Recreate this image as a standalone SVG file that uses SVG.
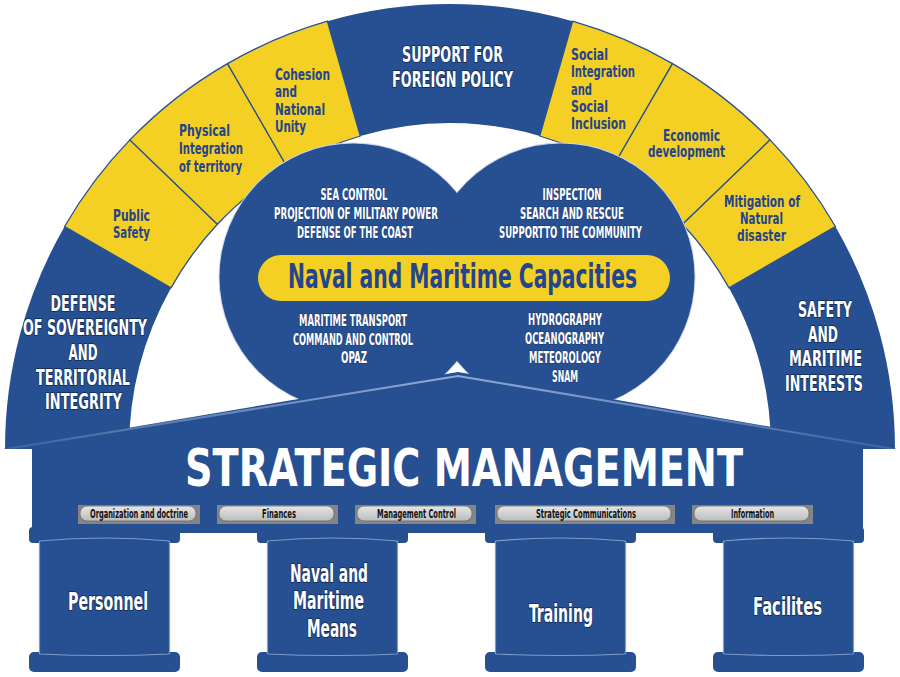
<svg xmlns="http://www.w3.org/2000/svg" width="900" height="677" viewBox="0 0 900 677">
<defs>
<linearGradient id="btn" x1="0" y1="0" x2="0" y2="1">
<stop offset="0" stop-color="#e6e6e6"/>
<stop offset="1" stop-color="#bcbcbc"/>
</linearGradient>
<linearGradient id="ridge" x1="0" y1="0" x2="1" y2="0">
<stop offset="0" stop-color="#9db4dc" stop-opacity="0.2"/>
<stop offset="0.5" stop-color="#9db4dc" stop-opacity="0.9"/>
<stop offset="1" stop-color="#9db4dc" stop-opacity="0.2"/>
</linearGradient>
<style>
.blue{fill:#275092}
.yel{fill:#f4d024;stroke:#275092;stroke-width:1.3}
.circo{fill:#275092;stroke:#c9d5ea;stroke-width:2}
.t{font-family:"Liberation Sans Narrow","DejaVu Sans Condensed","Liberation Sans",sans-serif;font-weight:bold;text-anchor:middle}
.w{fill:#ffffff}
.wo{fill:#ffffff;stroke:#16305e;stroke-width:2;paint-order:stroke;stroke-linejoin:round}
.wc{fill:#ffffff;stroke:#1b3668;stroke-width:1;paint-order:stroke}
.y{fill:#24448c;font-size:16px}
.s{text-anchor:start}
.cap{font-size:15.5px}
.arch{font-size:22px}
.col{font-size:25px}
.bt{fill:#111111;font-size:11.5px}
.btnback{fill:#858585}
.btnpill{fill:url(#btn);stroke:#6a6a6a;stroke-width:0.8}
.hl{fill:none;stroke:#7e9bcc;stroke-width:1.2}
</style>
</defs>
<rect width="900" height="677" fill="#ffffff"/>

<g id="arch">
<g id="seg-defense">
<path class="blue" d="M5,449 A445,445 0 0 1 64.6,226.5 L171,287.9 A321,326 0 0 0 129,449 Z"/>
<text class="t wo arch" x="83" y="311" textLength="65" lengthAdjust="spacingAndGlyphs">DEFENSE</text>
<text class="t wo arch" x="85" y="335" textLength="124" lengthAdjust="spacingAndGlyphs">OF SOVEREIGNTY</text>
<text class="t wo arch" x="83" y="360" textLength="29" lengthAdjust="spacingAndGlyphs">AND</text>
<text class="t wo arch" x="83" y="385" textLength="94" lengthAdjust="spacingAndGlyphs">TERRITORIAL</text>
<text class="t wo arch" x="83.5" y="409" textLength="77" lengthAdjust="spacingAndGlyphs">INTEGRITY</text>
</g>
<g id="seg-public-safety">
<path class="yel" d="M64.6,226.5 A445,445 0 0 1 129.9,139.9 L217.4,224.3 A321,326 0 0 0 171,287.9 Z"/>
<text class="t y s" x="113" y="221" textLength="37" lengthAdjust="spacingAndGlyphs">Public</text>
<text class="t y s" x="113" y="238" textLength="37" lengthAdjust="spacingAndGlyphs">Safety</text>
</g>
<g id="seg-physical">
<path class="yel" d="M129.9,139.9 A445,445 0 0 1 227.5,63.6 L287.6,167.8 A321,326 0 0 0 217.4,224.3 Z"/>
<text class="t y s" x="179" y="136" textLength="51" lengthAdjust="spacingAndGlyphs">Physical</text>
<text class="t y s" x="179" y="154" textLength="64" lengthAdjust="spacingAndGlyphs">Integration</text>
<text class="t y s" x="179" y="172" textLength="63" lengthAdjust="spacingAndGlyphs">of territory</text>
</g>
<g id="seg-cohesion">
<path class="yel" d="M227.5,63.6 A445,445 0 0 1 327.4,21.2 L360.3,136 A321,326 0 0 0 287.6,167.8 Z"/>
<text class="t y s" x="275" y="80" textLength="55" lengthAdjust="spacingAndGlyphs">Cohesion</text>
<text class="t y s" x="275" y="97" textLength="22" lengthAdjust="spacingAndGlyphs">and</text>
<text class="t y s" x="275" y="115" textLength="50" lengthAdjust="spacingAndGlyphs">National</text>
<text class="t y s" x="275" y="132" textLength="31" lengthAdjust="spacingAndGlyphs">Unity</text>
</g>
<g id="seg-foreign-policy">
<path class="blue" d="M327.4,21.2 A445,445 0 0 1 572.6,21.2 L539.7,136 A321,326 0 0 0 360.3,136 Z"/>
<text class="t wo arch" x="452.5" y="62" textLength="101" lengthAdjust="spacingAndGlyphs">SUPPORT FOR</text>
<text class="t wo arch" x="452.5" y="87" textLength="121" lengthAdjust="spacingAndGlyphs">FOREIGN POLICY</text>
</g>
<g id="seg-social">
<path class="yel" d="M572.6,21.2 A445,445 0 0 1 672.5,63.6 L612.4,167.8 A321,326 0 0 0 539.7,136 Z"/>
<text class="t y s" x="571" y="60" textLength="37" lengthAdjust="spacingAndGlyphs">Social</text>
<text class="t y s" x="571" y="77" textLength="64" lengthAdjust="spacingAndGlyphs">Integration</text>
<text class="t y s" x="571" y="95" textLength="21" lengthAdjust="spacingAndGlyphs">and</text>
<text class="t y s" x="571" y="112" textLength="37" lengthAdjust="spacingAndGlyphs">Social</text>
<text class="t y s" x="571" y="129" textLength="55" lengthAdjust="spacingAndGlyphs">Inclusion</text>
</g>
<g id="seg-economic">
<path class="yel" d="M672.5,63.6 A445,445 0 0 1 770.1,139.9 L682.6,224.3 A321,326 0 0 0 612.4,167.8 Z"/>
<text class="t y" x="691.5" y="141" textLength="57" lengthAdjust="spacingAndGlyphs">Economic</text>
<text class="t y" x="686.5" y="157" textLength="77" lengthAdjust="spacingAndGlyphs">development</text>
</g>
<g id="seg-mitigation">
<path class="yel" d="M770.1,139.9 A445,445 0 0 1 835.4,226.5 L729,287.9 A321,326 0 0 0 682.6,224.3 Z"/>
<text class="t y" x="762" y="207" textLength="76" lengthAdjust="spacingAndGlyphs">Mitigation of</text>
<text class="t y" x="761.5" y="224" textLength="43" lengthAdjust="spacingAndGlyphs">Natural</text>
<text class="t y" x="761.5" y="241" textLength="49" lengthAdjust="spacingAndGlyphs">disaster</text>
</g>
<g id="seg-safety">
<path class="blue" d="M835.4,226.5 A445,445 0 0 1 895,449 L771,449 A321,326 0 0 0 729,287.9 Z"/>
<text class="t wo arch" x="825" y="317" textLength="54" lengthAdjust="spacingAndGlyphs">SAFETY</text>
<text class="t wo arch" x="823" y="342" textLength="30" lengthAdjust="spacingAndGlyphs">AND</text>
<text class="t wo arch" x="825.5" y="366" textLength="73" lengthAdjust="spacingAndGlyphs">MARITIME</text>
<text class="t wo arch" x="824" y="391" textLength="78" lengthAdjust="spacingAndGlyphs">INTERESTS</text>
</g>
</g>

<g id="capacities">
<circle class="circo" cx="353" cy="277" r="133.5"/>
<circle class="circo" cx="561" cy="277" r="133.5"/>
<circle class="blue" cx="353" cy="277" r="133.5"/>
<circle class="blue" cx="561" cy="277" r="133.5"/>
<g id="left-top">
<text class="t wc cap" x="354" y="200" textLength="67" lengthAdjust="spacingAndGlyphs">SEA CONTROL</text>
<text class="t wc cap" x="356" y="219" textLength="164" lengthAdjust="spacingAndGlyphs">PROJECTION OF MILITARY POWER</text>
<text class="t wc cap" x="355" y="238" textLength="116" lengthAdjust="spacingAndGlyphs">DEFENSE OF THE COAST</text>
</g>
<g id="right-top">
<text class="t wc cap" x="572" y="200" textLength="59" lengthAdjust="spacingAndGlyphs">INSPECTION</text>
<text class="t wc cap" x="572" y="219" textLength="104" lengthAdjust="spacingAndGlyphs">SEARCH AND RESCUE</text>
<text class="t wc cap" x="570.5" y="238" textLength="143" lengthAdjust="spacingAndGlyphs">SUPPORTTO THE COMMUNITY</text>
</g>
<g id="left-bottom">
<text class="t wc cap" x="353" y="326" textLength="108" lengthAdjust="spacingAndGlyphs">MARITIME TRANSPORT</text>
<text class="t wc cap" x="353" y="345" textLength="120" lengthAdjust="spacingAndGlyphs">COMMAND AND CONTROL</text>
<text class="t wc cap" x="354" y="363" textLength="26" lengthAdjust="spacingAndGlyphs">OPAZ</text>
</g>
<g id="right-bottom">
<text class="t wc cap" x="565" y="325" textLength="74" lengthAdjust="spacingAndGlyphs">HYDROGRAPHY</text>
<text class="t wc cap" x="564.5" y="344" textLength="79" lengthAdjust="spacingAndGlyphs">OCEANOGRAPHY</text>
<text class="t wc cap" x="565" y="363" textLength="72" lengthAdjust="spacingAndGlyphs">METEOROLOGY</text>
<text class="t wc cap" x="565" y="382" textLength="26" lengthAdjust="spacingAndGlyphs">SNAM</text>
</g>
<g id="capacities-label">
<rect x="258" y="255" width="412" height="46" rx="23" fill="#f4d024"/>
<text class="t" x="462.5" y="288" font-size="33" fill="#24448c" textLength="349" lengthAdjust="spacingAndGlyphs">Naval and Maritime Capacities</text>
</g>
</g>

<g id="strategic-management">
<polygon class="blue" points="3,449 458,372 897,449"/>
<rect class="blue" x="32" y="447" width="831" height="86"/>
<polyline points="6,449 458,376 894,449" fill="none" stroke="url(#ridge)" stroke-width="2"/>
<text class="t w" x="464" y="486" font-size="52" textLength="558" lengthAdjust="spacingAndGlyphs">STRATEGIC MANAGEMENT</text>
</g>

<g id="buttons">
<g id="btn-organization">
<rect class="btnback" x="78" y="505" width="122" height="19"/>
<rect class="btnpill" x="80" y="506" width="116" height="15" rx="7"/>
<text class="t bt" x="139" y="518" textLength="98" lengthAdjust="spacingAndGlyphs">Organization and doctrine</text>
</g>
<g id="btn-finances">
<rect class="btnback" x="217" y="505" width="121" height="19"/>
<rect class="btnpill" x="219" y="506" width="115" height="15" rx="7"/>
<text class="t bt" x="279" y="518" textLength="34" lengthAdjust="spacingAndGlyphs">Finances</text>
</g>
<g id="btn-management">
<rect class="btnback" x="355" y="505" width="121" height="19"/>
<rect class="btnpill" x="357" y="506" width="115" height="15" rx="7"/>
<text class="t bt" x="416.5" y="518" textLength="79" lengthAdjust="spacingAndGlyphs">Management Control</text>
</g>
<g id="btn-communications">
<rect class="btnback" x="495" y="505" width="180" height="19"/>
<rect class="btnpill" x="497" y="506" width="174" height="15" rx="7"/>
<text class="t bt" x="586" y="518" textLength="100" lengthAdjust="spacingAndGlyphs">Strategic Communications</text>
</g>
<g id="btn-information">
<rect class="btnback" x="692" y="505" width="121" height="19"/>
<rect class="btnpill" x="694" y="506" width="115" height="15" rx="7"/>
<text class="t bt" x="752.5" y="518" textLength="43" lengthAdjust="spacingAndGlyphs">Information</text>
</g>
</g>

<g id="col-personnel">
<rect class="blue" x="29" y="527" width="151" height="16" rx="4"/>
<rect class="blue" x="39" y="539" width="131" height="117"/>
<rect class="blue" x="29" y="652" width="151" height="20" rx="5"/>
<path class="hl" d="M39.5,541 Q104.5,535 169.5,541 M39.5,541 L39.5,654 M169.5,541 L169.5,654 M39.5,654 Q104.5,657 169.5,654"/>
<text class="t wo col" x="108" y="610" textLength="80" lengthAdjust="spacingAndGlyphs">Personnel</text>
</g>
<g id="col-naval">
<rect class="blue" x="257" y="527" width="151" height="16" rx="4"/>
<rect class="blue" x="267" y="539" width="131" height="117"/>
<rect class="blue" x="257" y="652" width="151" height="20" rx="5"/>
<path class="hl" d="M267.5,541 Q332.5,535 397.5,541 M267.5,541 L267.5,654 M397.5,541 L397.5,654 M267.5,654 Q332.5,657 397.5,654"/>
<text class="t wo col" x="329" y="582" textLength="78" lengthAdjust="spacingAndGlyphs">Naval and</text>
<text class="t wo col" x="328.5" y="609" textLength="71" lengthAdjust="spacingAndGlyphs">Maritime</text>
<text class="t wo col" x="332" y="637" textLength="50" lengthAdjust="spacingAndGlyphs">Means</text>
</g>
<g id="col-training">
<rect class="blue" x="485" y="527" width="151" height="16" rx="4"/>
<rect class="blue" x="495" y="539" width="131" height="117"/>
<rect class="blue" x="485" y="652" width="151" height="20" rx="5"/>
<path class="hl" d="M495.5,541 Q560.5,535 625.5,541 M495.5,541 L495.5,654 M625.5,541 L625.5,654 M495.5,654 Q560.5,657 625.5,654"/>
<text class="t wo col" x="561" y="622" textLength="64" lengthAdjust="spacingAndGlyphs">Training</text>
</g>
<g id="col-facilites">
<rect class="blue" x="713" y="527" width="151" height="16" rx="4"/>
<rect class="blue" x="723" y="539" width="131" height="117"/>
<rect class="blue" x="713" y="652" width="151" height="20" rx="5"/>
<path class="hl" d="M723.5,541 Q788.5,535 853.5,541 M723.5,541 L723.5,654 M853.5,541 L853.5,654 M723.5,654 Q788.5,657 853.5,654"/>
<text class="t wo col" x="787.5" y="615" textLength="69" lengthAdjust="spacingAndGlyphs">Facilites</text>
</g>
<g id="connectors"/>
</svg>
